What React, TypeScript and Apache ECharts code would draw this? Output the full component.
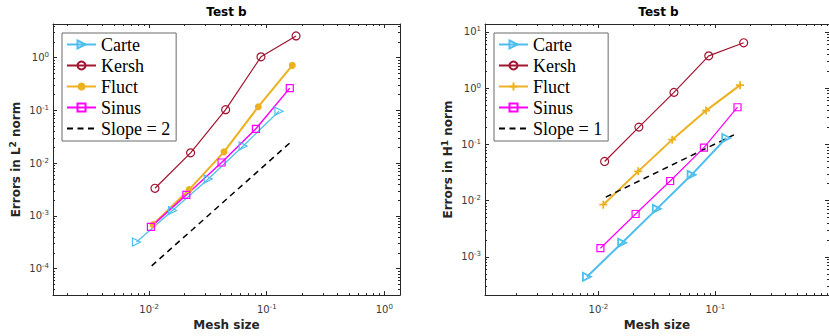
import React, { useEffect, useRef } from 'react';
import * as echarts from 'echarts';

// ---------- data ----------
const seriesNames = ['Carte', 'Kersh', 'Fluct', 'Sinus'];
const seriesColors = ['#4DBEEE', '#A2142F', '#EDB120', '#FF00FF'];

// L2 errors (left panel)
const l2CarteX = [0.0078, 0.0158, 0.0318, 0.063, 0.127];
const l2CarteY = [3.2e-4, 1.27e-3, 5.0e-3, 0.0212, 0.0966];
const l2KershX = [0.0112, 0.0225, 0.0447, 0.0893, 0.1776];
const l2KershY = [3.34e-3, 0.0157, 0.1035, 1.04, 2.59];
const l2FluctX = [0.0108, 0.0219, 0.0433, 0.0848, 0.165];
const l2FluctY = [6.9e-4, 3.16e-3, 0.0164, 0.118, 0.716];
const l2SinusX = [0.01034, 0.0207, 0.0413, 0.0809, 0.157];
const l2SinusY = [6.2e-4, 2.5e-3, 0.0103, 0.0449, 0.265];
const slope2X = [0.0105, 0.157];
const slope2Y = [1.13e-4, 0.0242];

// H1 errors (right panel)
const h1CarteX = [0.00797, 0.01596, 0.0316, 0.0627, 0.124];
const h1CarteY = [4.45e-4, 1.79e-3, 7.16e-3, 0.0288, 0.13];
const h1KershX = [0.0113, 0.0222, 0.0443, 0.0879, 0.175];
const h1KershY = [0.0498, 0.203, 0.841, 3.75, 6.4];
const h1FluctX = [0.011, 0.0219, 0.0428, 0.0834, 0.163];
const h1FluctY = [8.5e-3, 0.0332, 0.1216, 0.399, 1.13];
const h1SinusX = [0.0104, 0.0208, 0.0411, 0.08, 0.155];
const h1SinusY = [1.43e-3, 5.8e-3, 0.0224, 0.0879, 0.458];
const slope1X = [0.01156, 0.1556];
const slope1Y = [0.01155, 0.1596];

// axis ranges and ticks
const l2XRange = [0.00152, 1.36];
const l2YRange = [3.15e-5, 4.36];
const h1XRange = [0.00107, 0.94];
const h1YRange = [2.1e-4, 13.8];
const l2XMajor = [0.01, 0.1, 1];
const l2YMajor = [1e-4, 1e-3, 1e-2, 1e-1, 1];
const h1XMajor = [0.01, 0.1];
const h1YMajor = [1e-3, 1e-2, 1e-1, 1, 10];
const mantissas = [2, 3, 4, 5, 6, 7, 8, 9];
const decades = [1e-5, 1e-4, 1e-3, 1e-2, 1e-1, 1, 10];

const minorTicks = (range: number[]) => {
  const out: number[] = [];
  decades.forEach((d) => mantissas.forEach((m) => {
    const v = m * d;
    if (v > range[0] && v < range[1]) out.push(v);
  }));
  return out;
};

const AX = '#262626';
const LBL = '#3a3a3a';
const SANS = 'DejaVu Sans';

const fmtLog = (v: number) => {
  const e = Math.round(Math.log10(v));
  return `{b|10}{s|${e}}`;
};
const richLbl = {
  b: { fontSize: 10, fontFamily: SANS, color: LBL, lineHeight: 12 },
  s: { fontSize: 7, fontFamily: SANS, color: LBL, lineHeight: 6, verticalAlign: 'top' },
};
const richName = {
  n: { fontFamily: SANS, fontWeight: 'bold', fontSize: 12, color: AX, lineHeight: 15 },
  s: { fontFamily: SANS, fontWeight: 'bold', fontSize: 9, color: AX, lineHeight: 9, verticalAlign: 'top' },
};

function xAxes(grid: number, range: number[], major: number[]) {
  const minor = minorTicks(range);
  const base = { type: 'log', gridIndex: grid, min: range[0], max: range[1], splitLine: { show: false }, silent: true };
  return [
    {
      ...base, position: 'bottom',
      axisLine: { show: true, lineStyle: { color: AX, width: 1 } },
      axisTick: { show: true, inside: true, length: 4, customValues: major, lineStyle: { color: AX } },
      axisLabel: { show: true, margin: 8, customValues: major, formatter: fmtLog, rich: richLbl },
      name: 'Mesh size', nameLocation: 'middle', nameGap: 23,
      nameTextStyle: { fontFamily: SANS, fontWeight: 'bold', fontSize: 12, color: AX },
    },
    {
      ...base, position: 'bottom',
      axisLine: { show: false },
      axisTick: { show: true, inside: true, length: 2, customValues: minor, lineStyle: { color: AX } },
      axisLabel: { show: false },
    },
    {
      ...base, position: 'top',
      axisLine: { show: true, lineStyle: { color: AX, width: 1 } },
      axisTick: { show: true, inside: true, length: 4, customValues: major, lineStyle: { color: AX } },
      axisLabel: { show: false },
    },
    {
      ...base, position: 'top',
      axisLine: { show: false },
      axisTick: { show: true, inside: true, length: 2, customValues: minor, lineStyle: { color: AX } },
      axisLabel: { show: false },
    },
  ];
}

function yAxes(grid: number, range: number[], major: number[], letter: string, sup: string) {
  const minor = minorTicks(range);
  const base = { type: 'log', gridIndex: grid, min: range[0], max: range[1], splitLine: { show: false }, silent: true };
  return [
    {
      ...base, position: 'left',
      axisLine: { show: true, lineStyle: { color: AX, width: 1 } },
      axisTick: { show: true, inside: true, length: 4, customValues: major, lineStyle: { color: AX } },
      axisLabel: { show: true, margin: 4, customValues: major, formatter: fmtLog, rich: richLbl },
      name: `{n|Errors in ${letter}}{s|${sup}}{n| norm}`, nameLocation: 'middle', nameGap: 30,
      nameTextStyle: { fontFamily: SANS, fontWeight: 'bold', fontSize: 12, color: AX, rich: richName },
    },
    {
      ...base, position: 'left',
      axisLine: { show: false },
      axisTick: { show: true, inside: true, length: 2, customValues: minor, lineStyle: { color: AX } },
      axisLabel: { show: false },
    },
    {
      ...base, position: 'right',
      axisLine: { show: true, lineStyle: { color: AX, width: 1 } },
      axisTick: { show: true, inside: true, length: 4, customValues: major, lineStyle: { color: AX } },
      axisLabel: { show: false },
    },
    {
      ...base, position: 'right',
      axisLine: { show: false },
      axisTick: { show: true, inside: true, length: 2, customValues: minor, lineStyle: { color: AX } },
      axisLabel: { show: false },
    },
  ];
}

const TRI = 'path://M0,0L10,5L0,10Z';
const PLUS = 'path://M5,0L5,10M0,5L10,5';
const CLEAR = 'rgba(0,0,0,0)';

function mk(name: string, xs: number[], ys: number[], color: string, width: number,
  symbol: string, size: number, filled: boolean, axisBase: number, dashed = false) {
  return {
    type: 'line',
    name,
    xAxisIndex: axisBase,
    yAxisIndex: axisBase,
    data: xs.map((x, i) => [x, ys[i]]),
    symbol,
    symbolSize: size,
    showAllSymbol: true,
    silent: true,
    lineStyle: { color, width, type: dashed ? [6, 4.5] : 'solid' },
    itemStyle: dashed
      ? { color: CLEAR, borderColor: CLEAR, borderWidth: 0 }
      : { color: filled ? color : CLEAR, borderColor: color, borderWidth: filled ? 0 : (width > 1.6 ? 1.8 : 1.2) },
    emphasis: { disabled: true },
    z: 2,
  };
}

const legendBase = {
  orient: 'vertical',
  top: 33,
  itemWidth: 29,
  itemHeight: 10,
  itemGap: 0,
  padding: [1, 6, 2, 4],
  backgroundColor: '#fff',
  borderColor: '#6a6a6a',
  borderWidth: 1,
  selectedMode: false,
  textStyle: { fontFamily: 'Liberation Serif', fontSize: 18, color: '#000', lineHeight: 21 },
  formatter: (n: string) => n.slice(3),
};

export default function App() {
  const ref = useRef<HTMLDivElement>(null);
  useEffect(() => {
    document.body.style.margin = '0';
    if (!ref.current) return;
    const chart = echarts.init(ref.current, null, { renderer: 'svg' });
    const L = 'L2 ';
    const R = 'H1 ';
    const option = {
      animation: false,
      backgroundColor: '#fff',
      title: [
        { text: 'Test b', left: 226.5, top: 6, textAlign: 'center', padding: 0,
          textStyle: { fontFamily: SANS, fontWeight: 'bold', fontSize: 12, color: '#000' } },
        { text: 'Test b', left: 658.5, top: 6, textAlign: 'center', padding: 0,
          textStyle: { fontFamily: SANS, fontWeight: 'bold', fontSize: 12, color: '#000' } },
      ],
      grid: [
        { left: 53, top: 24, width: 347, height: 274 },
        { left: 485, top: 24, width: 347, height: 274 },
      ],
      xAxis: [...xAxes(0, l2XRange, l2XMajor), ...xAxes(1, h1XRange, h1XMajor)],
      yAxis: [...yAxes(0, l2YRange, l2YMajor, 'L', '2'), ...yAxes(1, h1YRange, h1YMajor, 'H', '1')],
      legend: [
        { ...legendBase, left: 62, data: [...seriesNames.map((n) => L + n), L + 'Slope = 2'] },
        { ...legendBase, left: 494, data: [...seriesNames.map((n) => R + n), R + 'Slope = 1'] },
      ],
      series: [
        mk(L + seriesNames[0], l2CarteX, l2CarteY, seriesColors[0], 1.2, TRI, 8, false, 0),
        mk(L + seriesNames[1], l2KershX, l2KershY, seriesColors[1], 1.2, 'circle', 8, false, 0),
        mk(L + seriesNames[2], l2FluctX, l2FluctY, seriesColors[2], 2, 'circle', 7, true, 0),
        mk(L + seriesNames[3], l2SinusX, l2SinusY, seriesColors[3], 1.5, 'rect', 7, false, 0),
        mk(L + 'Slope = 2', slope2X, slope2Y, '#000', 1.5, 'circle', 0, false, 0, true),
        mk(R + seriesNames[0], h1CarteX, h1CarteY, seriesColors[0], 2, TRI, 8, false, 4),
        mk(R + seriesNames[1], h1KershX, h1KershY, seriesColors[1], 1.2, 'circle', 8, false, 4),
        mk(R + seriesNames[2], h1FluctX, h1FluctY, seriesColors[2], 2, PLUS, 8, false, 4),
        mk(R + seriesNames[3], h1SinusX, h1SinusY, seriesColors[3], 1.2, 'rect', 7, false, 4),
        mk(R + 'Slope = 1', slope1X, slope1Y, '#000', 1.5, 'circle', 0, false, 4, true),
      ],
    };
    chart.setOption(option as any);
    return () => chart.dispose();
  }, []);
  return <div ref={ref} style={{ width: 829, height: 336 }} />;
}
